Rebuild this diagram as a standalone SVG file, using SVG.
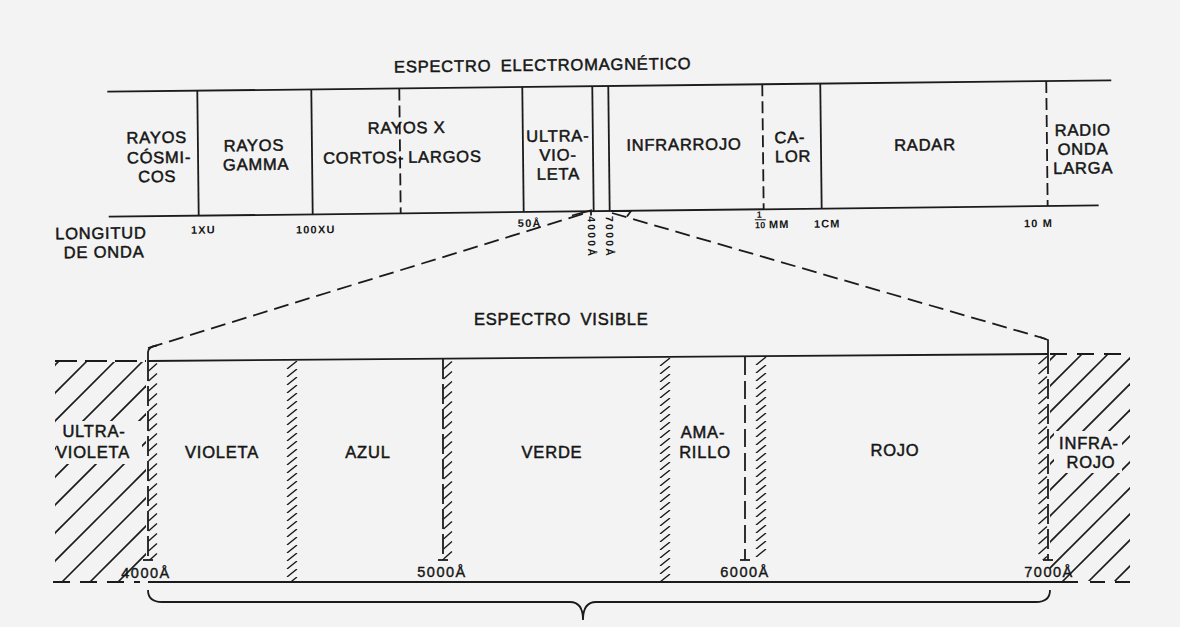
<svg xmlns="http://www.w3.org/2000/svg" width="1180" height="627" viewBox="0 0 1180 627">
<style>
.ln{stroke:#1b1b1b;stroke-width:1.8;fill:none}
.dsh{stroke-dasharray:12 5}
.t{font-family:"Liberation Sans",Arial,sans-serif;font-size:16.5px;letter-spacing:0.8px;fill:#161616;stroke:#161616;stroke-width:0.5}
.s{font-family:"Liberation Sans",Arial,sans-serif;font-size:11px;font-weight:bold;letter-spacing:1.2px;fill:#161616}
.w{font-family:"Liberation Sans",Arial,sans-serif;font-size:14.5px;letter-spacing:1.5px;fill:#161616;stroke:#161616;stroke-width:0.4;text-anchor:middle}
.m{text-anchor:middle}
.bg{fill:#f3f3f3}
.h{stroke:#1b1b1b;stroke-width:1.6}
</style>
<defs>
<pattern id="col" patternUnits="userSpaceOnUse" width="12" height="8"><line x1="1" y1="8" x2="11" y2="0" stroke="#1b1b1b" stroke-width="1.4"/></pattern>
<pattern id="tick" patternUnits="userSpaceOnUse" width="10" height="10"><line x1="0.5" y1="9" x2="9" y2="1.5" stroke="#1b1b1b" stroke-width="1.4"/></pattern>
<clipPath id="clipL"><rect x="55" y="362" width="91" height="219"/></clipPath>
<clipPath id="clipR"><rect x="1050" y="355" width="80" height="226"/></clipPath>
</defs>
<rect width="1180" height="627" class="bg"/>

<g id="electromagnetic-spectrum" transform="rotate(-0.65 610 150)">
  <text class="t" x="395" y="70" word-spacing="4">ESPECTRO ELECTROMAGNÉTICO</text>
  <g id="frame">
    <line class="ln" x1="108" y1="86" x2="1112" y2="86"/>
    <line class="ln" x1="108" y1="211" x2="1098" y2="211"/>
    <line class="ln" x1="198" y1="86" x2="198" y2="211"/>
    <line class="ln" x1="312" y1="86" x2="312" y2="211"/>
    <line class="ln dsh" x1="400" y1="86" x2="400" y2="211"/>
    <line class="ln" x1="523" y1="86" x2="523" y2="211"/>
    <line class="ln" x1="593" y1="86" x2="593" y2="211"/>
    <line class="ln" x1="609" y1="86" x2="609" y2="211"/>
    <line class="ln dsh" x1="763" y1="86" x2="763" y2="211"/>
    <line class="ln" x1="821" y1="86" x2="821" y2="211"/>
    <line class="ln dsh" x1="1047" y1="86" x2="1047" y2="211"/>
  </g>
  <g id="rayos-cosmicos"><text class="t m" x="157" y="138">RAYOS</text><text class="t m" x="159" y="158">CÓSMI-</text><text class="t m" x="157" y="177">COS</text></g>
  <g id="rayos-gamma"><text class="t m" x="254" y="147">RAYOS</text><text class="t m" x="256" y="166">GAMMA</text></g>
  <g id="rayos-x"><text class="t" x="368" y="131">RAYOS X</text><text class="t" x="323" y="160.5">CORTOS-</text><text class="t" x="408" y="160.5">LARGOS</text></g>
  <g id="ultravioleta"><text class="t m" x="558" y="141">ULTRA-</text><text class="t m" x="558" y="160">VIO-</text><text class="t m" x="558" y="179">LETA</text></g>
  <g id="infrarrojo"><text class="t m" x="684" y="151">INFRARROJO</text></g>
  <g id="calor"><text class="t m" x="790" y="145">CA-</text><text class="t m" x="793" y="164">LOR</text></g>
  <g id="radar"><text class="t m" x="925" y="154">RADAR</text></g>
  <g id="radio"><text class="t m" x="1083" y="141">RADIO</text><text class="t m" x="1083" y="160">ONDA</text><text class="t m" x="1083" y="179">LARGA</text></g>
  <g id="longitud-de-onda">
    <text class="t m" x="100" y="233">LONGITUD</text><text class="t m" x="103" y="252">DE ONDA</text>
    <text class="s" x="190" y="229">1XU</text>
    <text class="s" x="295" y="230">100XU</text>
    <text class="s" x="517" y="226">50Å</text>
    <text class="s" x="756" y="219.5" style="font-size:9px;letter-spacing:0">1</text>
    <line x1="754" y1="221.5" x2="765" y2="221.5" stroke="#1b1b1b" stroke-width="1"/>
    <text class="s" x="754" y="230" style="font-size:9px;letter-spacing:0.3px">10</text>
    <text class="s" x="768" y="230">MM</text>
    <text class="s" x="813" y="230">1CM</text>
    <text class="s" x="1023" y="232">10 M</text>
    <text class="s" transform="translate(587 216) rotate(90)" style="font-size:10.5px;letter-spacing:2.2px">4000Å</text>
    <text class="s" transform="translate(605 216) rotate(90)" style="font-size:10.5px;letter-spacing:2.2px">7000Å</text>
  </g>
</g>

<g id="connectors">
  <line class="ln" x1="148" y1="348" x2="586" y2="213" stroke-dasharray="15 7"/>
  <line class="ln" x1="612" y1="213" x2="1046" y2="339" stroke-dasharray="15 7"/>
  <polyline class="ln" points="572,215.5 591,210.5 591,215.5" stroke-width="1.4"/>
  <polyline class="ln" points="611,211 631,211 627,216.5" stroke-width="1.4"/>
  <path class="ln" d="M157,345.5 Q148,347 148,352 L148,361"/>
  <path class="ln" d="M1040,337 L1048,340 L1048,354"/>
</g>

<g id="visible-spectrum">
  <text class="t" x="474" y="325" word-spacing="4">ESPECTRO VISIBLE</text>
  <g id="visible-frame">
    <line class="ln" x1="148" y1="361" x2="1048" y2="354"/>
    <line class="ln" x1="148" y1="582" x2="1078" y2="582"/>
    <line class="ln" x1="55" y1="361" x2="146" y2="361" stroke-dasharray="22 8"/>
    <line class="ln" x1="1050" y1="354" x2="1128" y2="354" stroke-dasharray="17 10"/>
    <line class="ln" x1="53" y1="582" x2="140" y2="582" stroke-dasharray="17 10"/>
    <line class="ln" x1="1090" y1="582" x2="1138" y2="582" stroke-dasharray="15 10"/>
  </g>
  <g id="hatch-ultravioleta" clip-path="url(#clipL)">
    <line class="h" x1="-180" y1="600" x2="80" y2="340"/>
    <line class="h" x1="-152" y1="600" x2="108" y2="340"/>
    <line class="h" x1="-124" y1="600" x2="136" y2="340"/>
    <line class="h" x1="-96" y1="600" x2="164" y2="340"/>
    <line class="h" x1="-68" y1="600" x2="192" y2="340"/>
    <line class="h" x1="-40" y1="600" x2="220" y2="340"/>
    <line class="h" x1="-12" y1="600" x2="248" y2="340"/>
    <line class="h" x1="16" y1="600" x2="276" y2="340"/>
    <line class="h" x1="44" y1="600" x2="304" y2="340"/>
    <line class="h" x1="72" y1="600" x2="332" y2="340"/>
    <line class="h" x1="100" y1="600" x2="360" y2="340"/>
    <line class="h" x1="128" y1="600" x2="388" y2="340"/>
  </g>
  <rect class="bg" x="56" y="421" width="86" height="43"/>
  <g id="hatch-infrarrojo" clip-path="url(#clipR)">
    <line class="h" x1="810" y1="600" x2="1070" y2="340"/>
    <line class="h" x1="836" y1="600" x2="1096" y2="340"/>
    <line class="h" x1="862" y1="600" x2="1122" y2="340"/>
    <line class="h" x1="888" y1="600" x2="1148" y2="340"/>
    <line class="h" x1="914" y1="600" x2="1174" y2="340"/>
    <line class="h" x1="940" y1="600" x2="1200" y2="340"/>
    <line class="h" x1="966" y1="600" x2="1226" y2="340"/>
    <line class="h" x1="992" y1="600" x2="1252" y2="340"/>
    <line class="h" x1="1018" y1="600" x2="1278" y2="340"/>
    <line class="h" x1="1044" y1="600" x2="1304" y2="340"/>
    <line class="h" x1="1070" y1="600" x2="1330" y2="340"/>
    <line class="h" x1="1096" y1="600" x2="1356" y2="340"/>
    <line class="h" x1="1122" y1="600" x2="1382" y2="340"/>
  </g>
  <rect class="bg" x="1054" y="431" width="68" height="42"/>
  <g id="boundaries">
    <rect x="0" y="0" width="12" height="220" fill="url(#col)" transform="translate(286 361)"/>
    <rect x="0" y="0" width="12" height="223" fill="url(#col)" transform="translate(659 358)"/>
    <rect x="0" y="0" width="12" height="200" fill="url(#col)" transform="translate(755 357)"/>
    <line class="ln" x1="148" y1="361" x2="148" y2="560" stroke-dasharray="20 5"/>
    <rect x="0" y="0" width="10" height="198" fill="url(#tick)" transform="translate(148 362)"/>
    <line class="ln" x1="443" y1="359" x2="443" y2="560" stroke-dasharray="20 5"/>
    <rect x="0" y="0" width="10" height="200" fill="url(#tick)" transform="translate(443 360)"/>
    <line class="ln" x1="745" y1="357" x2="745" y2="560" stroke-dasharray="18 6"/>
    <line class="ln" x1="1048" y1="354" x2="1048" y2="560" stroke-dasharray="20 5"/>
    <rect x="0" y="0" width="10" height="205" fill="url(#tick)" transform="translate(1038 355)"/>
    <line class="ln" x1="143" y1="560" x2="153" y2="560"/>
    <line class="ln" x1="438" y1="560" x2="448" y2="560"/>
    <line class="ln" x1="740" y1="560" x2="750" y2="560"/>
    <line class="ln" x1="1043" y1="560" x2="1053" y2="560"/>
  </g>
  <g id="uv-label"><text class="t m" x="94" y="437">ULTRA-</text><text class="t m" x="93" y="458">VIOLETA</text></g>
  <g id="violeta"><text class="t m" x="222" y="458">VIOLETA</text></g>
  <g id="azul"><text class="t m" x="368" y="458">AZUL</text></g>
  <g id="verde"><text class="t m" x="552" y="458">VERDE</text></g>
  <g id="amarillo"><text class="t m" x="703" y="438">AMA-</text><text class="t m" x="705" y="458">RILLO</text></g>
  <g id="rojo"><text class="t m" x="895" y="456">ROJO</text></g>
  <g id="ir-label"><text class="t m" x="1089" y="449">INFRA-</text><text class="t m" x="1091" y="468">ROJO</text></g>
  <g id="wavelengths">
    <text class="w" x="146" y="578">4000Å</text>
    <text class="w" x="442" y="577">5000Å</text>
    <text class="w" x="745" y="577">6000Å</text>
    <text class="w" x="1049" y="577">7000Å</text>
  </g>
  <path id="brace" class="ln" d="M148,590 Q148,602 162,602 L570,602 Q583,602 583,620 Q583,602 596,602 L1036,602 Q1050,602 1050,590"/>
</g>
</svg>
